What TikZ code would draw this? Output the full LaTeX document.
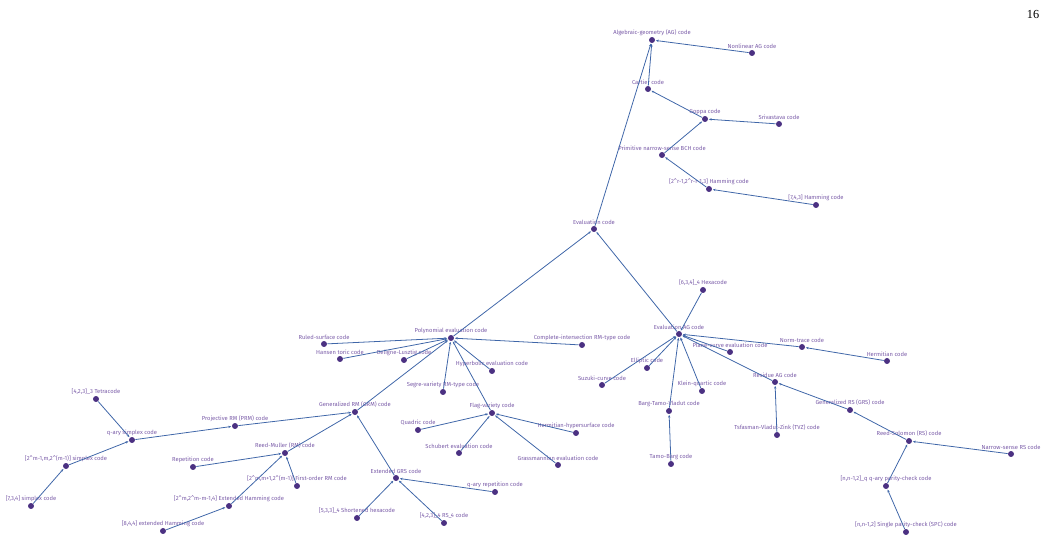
\documentclass[tikz,border=0pt]{standalone}
\usepackage{fontspec}
\setmainfont{Fira Sans}
\newfontfamily\numfont{Liberation Serif}
\usetikzlibrary{arrows.meta}
\definecolor{dotc}{HTML}{4B3182}
\definecolor{labc}{HTML}{7A5CA8}
\definecolor{edgec}{HTML}{3F66A8}
\tikzset{point/.style={circle,fill=dotc,inner sep=0pt,minimum size=3.4pt,
  label={[text=labc,inner sep=0.6pt,font=\fontsize{3.3}{4}\selectfont]above:{#1}}}}
\tikzset{>={Stealth[length=1.6pt,width=1.3pt]},edge/.style={->,edgec,line width=0.45pt,shorten >=0.3pt}}

\begin{document}
\begin{tikzpicture}[x=0.02cm,y=-0.02cm]
    \useasboundingbox (0,0) rectangle (1047,548);
    \node at (1033,14) {\numfont\fontsize{7}{8}\selectfont 16};
        % upper branch
        \node[point={Algebraic-geometry (AG) code}] (AG) at (652,40) {};
        \node[point={Nonlinear AG code}] (nonlinAG) at (752,53) {};
        \node[point={Cartier code}] (cartier) at (648,89) {};
        \node[point={Goppa code}] (goppa) at (705,119) {};
        \node[point={Srivastava code}] (srivastava) at (779,124) {};
        \node[point={Primitive narrow-sense BCH code}] (BCH) at (662,155) {};
        \node[point={[2\^{}r-1,2\^{}r-r-1,3] Hamming code}] (hamR) at (709,189) {};
        \node[point={[7,4,3] Hamming code}] (ham743) at (816,205) {};
        \node[point={Evaluation code}] (eval) at (594,229) {};

        % polynomial evaluation
        \node[point={Polynomial evaluation code}] (polyeval) at (451,338) {};
        \node[point={Ruled-surface code}] (ruled) at (324,344) {};
        \node[point={Hansen toric code}] (hansen) at (340,359) {};
        \node[point={Deligne-Lusztig code}] (deligne) at (404,360) {};
        \node[point={Complete-intersection RM-type code}] (complint) at (582,345) {};
        \node[point={Hyperbolic evaluation code}] (hyperbolic) at (492,371) {};
        \node[point={Segre-variety RM-type code}] (segre) at (443,392) {};
        \node[point={Generalized RM (GRM) code}] (GRM) at (355,412) {};
        \node[point={Flag-variety code}] (flag) at (492,413) {};
        \node[point={Quadric code}] (quadric) at (418,430) {};
        \node[point={Hermitian-hypersurface code}] (hermhyp) at (576,433) {};
        \node[point={Schubert evaluation code}] (schubert) at (459,453) {};
        \node[point={Grassmannian evaluation code}] (grassmann) at (558,465) {};

        % GRM subtree
        \node[point={[4,2,3]\_3 Tetracode}] (tetra) at (96,399) {};
        \node[point={q-ary simplex code}] (qsimplex) at (132,440) {};
        \node[point={Projective RM (PRM) code}] (PRM) at (235,426) {};
        \node[point={[2\^{}m-1,m,2\^{}(m-1)] simplex code}] (simplexM) at (66,466) {};
        \node[point={[7,3,4] simplex code}] (simplex734) at (31,506) {};
        \node[point={Reed-Muller (RM) code}] (RM) at (285,453) {};
        \node[point={Repetition code}] (repetition) at (193,467) {};
        \node[point={[2\^{}m,m+1,2\^{}(m-1)] First-order RM code}] (firstRM) at (297,486) {};
        \node[point={[2\^{}m,2\^{}m-m-1,4] Extended Hamming code}] (extham) at (229,506) {};
        \node[point={[8,4,4] extended Hamming code}] (extham844) at (163,531) {};
        \node[point={Extended GRS code}] (extGRS) at (396,478) {};
        \node[point={[5,3,3]\_4 Shortened hexacode}] (shorthexa) at (357,518) {};
        \node[point={[4,2,3]\_4 RS\_4 code}] (RS4) at (444,523) {};
        \node[point={q-ary repetition code}] (qrep) at (495,492) {};

        % evaluation AG
        \node[point={Evaluation AG code}] (evalAG) at (679,334) {};
        \node[point={[6,3,4]\_4 Hexacode}] (hexa) at (703,290) {};
        \node[point={Plane-curve evaluation code}] (plane) at (730,352) {};
        \node[point={Norm-trace code}] (normtrace) at (802,347) {};
        \node[point={Hermitian code}] (hermitian) at (887,361) {};
        \node[point={Elliptic code}] (elliptic) at (647,368) {};
        \node[point={Suzuki-curve code}] (suzuki) at (602,385) {};
        \node[point={Klein-quartic code}] (klein) at (702,391) {};
        \node[point={Residue AG code}] (residue) at (775,382) {};
        \node[point={Barg-Tamo-Vladut code}] (BTV) at (669,411) {};
        \node[point={Tamo-Barg code}] (tamobarg) at (671,464) {};
        \node[point={Generalized RS (GRS) code}] (GRS) at (850,410) {};
        \node[point={Tsfasman-Vladut-Zink (TVZ) code}] (TVZ) at (777,435) {};
        \node[point={Reed-Solomon (RS) code}] (RS) at (909,441) {};
        \node[point={Narrow-sense RS code}] (narrowRS) at (1011,454) {};
        \node[point={[n,n-1,2]\_q q-ary parity-check code}] (qparity) at (886,486) {};
        \node[point={[n,n-1,2] Single parity-check (SPC) code}] (SPC) at (906,532) {};

        \foreach \a/\b in {nonlinAG/AG,cartier/AG,eval/AG,goppa/cartier,srivastava/goppa,
            BCH/goppa,hamR/BCH,ham743/hamR,polyeval/eval,evalAG/eval,
            ruled/polyeval,hansen/polyeval,deligne/polyeval,complint/polyeval,
            hyperbolic/polyeval,segre/polyeval,GRM/polyeval,flag/polyeval,
            quadric/flag,hermhyp/flag,schubert/flag,grassmann/flag,
            PRM/GRM,RM/GRM,extGRS/GRM,qsimplex/PRM,tetra/qsimplex,simplexM/qsimplex,
            simplex734/simplexM,repetition/RM,firstRM/RM,extham/RM,extham844/extham,
            shorthexa/extGRS,RS4/extGRS,qrep/extGRS,
            hexa/evalAG,plane/evalAG,normtrace/evalAG,elliptic/evalAG,suzuki/evalAG,
            klein/evalAG,residue/evalAG,BTV/evalAG,hermitian/normtrace,tamobarg/BTV,
            TVZ/residue,GRS/residue,RS/GRS,narrowRS/RS,qparity/RS,SPC/qparity}
            \draw[edge] (\a) -- (\b);
    \end{tikzpicture}
\end{document}
